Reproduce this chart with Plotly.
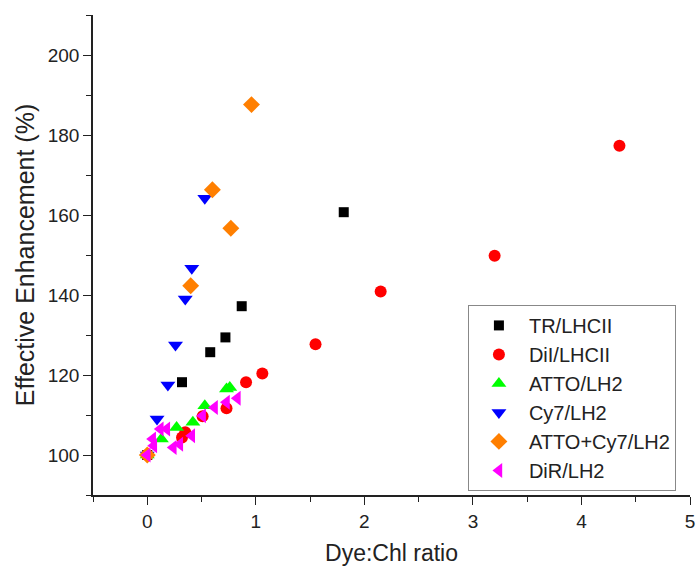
import plotly.graph_objects as go

# Data
tr_x = [0.0, 0.32, 0.58, 0.72, 0.87, 1.81]
tr_y = [100.0, 118.2, 125.7, 129.4, 137.2, 160.7]

dil_x = [0.0, 0.32, 0.35, 0.51, 0.73, 0.91, 1.06, 1.55, 2.15, 3.20, 4.35]
dil_y = [100.0, 104.4, 105.7, 109.7, 111.7, 118.2, 120.4, 127.7, 140.9, 149.8, 177.3]

atto_x = [0.0, 0.13, 0.27, 0.42, 0.53, 0.73, 0.76]
atto_y = [100.0, 104.0, 106.9, 108.2, 112.3, 116.5, 116.9]

cy7_x = [0.0, 0.09, 0.19, 0.26, 0.35, 0.41, 0.53]
cy7_y = [100.0, 109.0, 117.5, 127.5, 139.0, 146.7, 164.2]

combo_x = [0.0, 0.40, 0.60, 0.77, 0.96]
combo_y = [100.0, 142.3, 166.3, 156.7, 187.6]

dir_x = [0.0, 0.05, 0.06, 0.12, 0.18, 0.24, 0.30, 0.41, 0.51, 0.62, 0.73, 0.83]
dir_y = [100.0, 104.0, 102.3, 106.5, 106.5, 101.9, 102.7, 104.8, 109.8, 111.9, 113.2, 114.2]

series = [
    ("TR/LHCII", tr_x, tr_y, "square", "#000000", 10),
    ("DiI/LHCII", dil_x, dil_y, "circle", "#ff0000", 12),
    ("ATTO/LH2", atto_x, atto_y, "triangle-up", "#00ff00", 13),
    ("Cy7/LH2", cy7_x, cy7_y, "triangle-down", "#0000ff", 13),
    ("ATTO+Cy7/LH2", combo_x, combo_y, "diamond", "#ff7f00", 13),
    ("DiR/LH2", dir_x, dir_y, "triangle-left", "#ff00ff", 13),
]

fig = go.Figure()
for name, xs, ys, sym, col, sz in series:
    fig.add_trace(go.Scatter(
        x=xs, y=ys, mode="markers", name=name,
        marker=dict(symbol=sym, color=col, size=sz, line=dict(width=0)),
    ))

font_family = "Liberation Sans, Arial, sans-serif"
fig.update_layout(
    width=697, height=568,
    margin=dict(l=93, r=7, t=15, b=73),
    paper_bgcolor="white", plot_bgcolor="white",
    font=dict(family=font_family, color="#222222", size=19),
    showlegend=True,
    legend=dict(
        x=0.628, y=0.396, xanchor="left", yanchor="top",
        bordercolor="#888888", borderwidth=1, bgcolor="white",
        font=dict(size=20, color="#222222"),
        itemwidth=50,
        tracegroupgap=0,
    ),
    xaxis=dict(
        range=[-0.5, 5], tickmode="linear", tick0=0, dtick=1,
        showline=True, linecolor="#222222", linewidth=1.5,
        ticks="outside", ticklen=8, tickwidth=1.2, tickcolor="#222222",
        showgrid=False, zeroline=False, automargin=False,
        minor=dict(dtick=0.5, tick0=0, ticks="outside", ticklen=5, tickcolor="#222222", showgrid=False),
        title=dict(text="Dye:Chl ratio", font=dict(size=23), standoff=14),
        tickfont=dict(size=19),
    ),
    yaxis=dict(
        range=[90, 210], tickmode="linear", tick0=100, dtick=20,
        showline=True, linecolor="#222222", linewidth=1.5,
        ticks="outside", ticklen=8, tickwidth=1.2, tickcolor="#222222",
        showgrid=False, zeroline=False, automargin=False,
        minor=dict(dtick=10, tick0=0, ticks="outside", ticklen=5, tickcolor="#222222", showgrid=False),
        title=dict(text="Effective Enhancement (%)", font=dict(size=25), standoff=6),
        tickfont=dict(size=19),
    ),
)

fig.write_html("out.html")
